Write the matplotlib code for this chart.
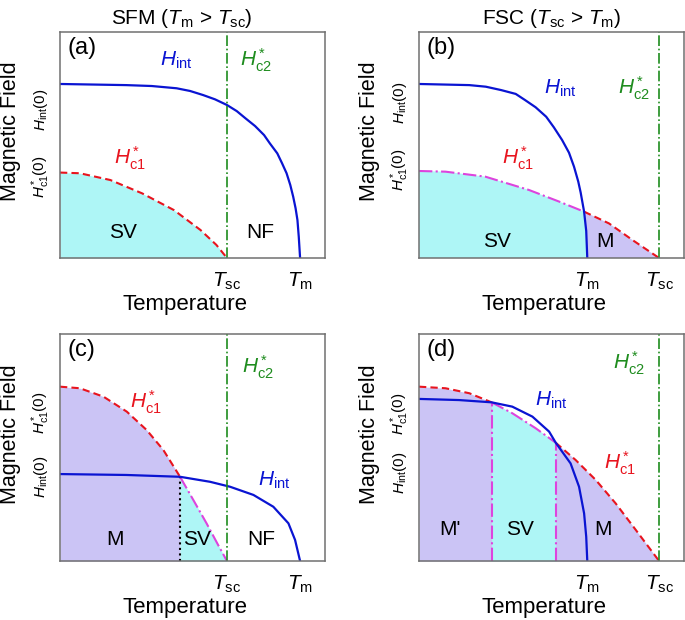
import numpy as np
import matplotlib
matplotlib.use("Agg")
import matplotlib.pyplot as plt

plt.rcParams['font.family'] = ['Liberation Sans', 'DejaVu Sans']
plt.rcParams['mathtext.fontset'] = 'custom'
plt.rcParams['mathtext.rm'] = 'Liberation Sans'
plt.rcParams['mathtext.it'] = 'Liberation Sans:italic'

# (a) SFM
a_hint_x = [0, 0.25, 0.346, 0.44, 0.491, 0.54, 0.585, 0.63, 0.667, 0.70, 0.736, 0.77,
            0.792, 0.82, 0.838, 0.855, 0.869, 0.88, 0.889, 0.896, 0.901, 0.906]
a_hint_y = [0.77, 0.765, 0.761, 0.751, 0.739, 0.721, 0.702, 0.677, 0.650, 0.618, 0.584, 0.544,
            0.507, 0.463, 0.419, 0.375, 0.323, 0.271, 0.220, 0.168, 0.094, 0]
a_hc1_x = [0, 0.075, 0.19, 0.31, 0.43, 0.53, 0.59, 0.63]
a_hc1_y = [0.378, 0.375, 0.345, 0.286, 0.212, 0.124, 0.058, 0]
a_tsc, a_tm = 0.63, 0.906

# (b) FSC
b_hint_x = [0, 0.19, 0.252, 0.31, 0.365, 0.40, 0.44, 0.48, 0.509, 0.54, 0.566, 0.585,
            0.601, 0.61, 0.623, 0.631, 0.635]
b_hint_y = [0.77, 0.765, 0.758, 0.743, 0.726, 0.699, 0.667, 0.625, 0.578, 0.522, 0.466, 0.404,
            0.338, 0.29, 0.205, 0.12, 0]
b_hc1_x = [0, 0.10, 0.25, 0.415, 0.53, 0.623, 0.717, 0.805, 0.906]
b_hc1_y = [0.385, 0.382, 0.36, 0.301, 0.249, 0.205, 0.153, 0.08, 0]
b_tm, b_tsc = 0.635, 0.906
b_cross = 0.623

# (c) SFM
c_hc1_x = [0, 0.075, 0.164, 0.252, 0.327, 0.39, 0.453, 0.503, 0.553, 0.597, 0.63]
c_hc1_y = [0.768, 0.761, 0.724, 0.658, 0.577, 0.489, 0.371, 0.269, 0.166, 0.07, 0]
c_hint_x = [0, 0.25, 0.453, 0.566, 0.642, 0.73, 0.805, 0.862, 0.887, 0.906]
c_hint_y = [0.383, 0.379, 0.371, 0.349, 0.327, 0.291, 0.239, 0.166, 0.093, 0]
c_tsc, c_tm = 0.63, 0.906
c_cross = 0.453

# (d) FSC
d_hc1_x = [0, 0.10, 0.19, 0.274, 0.352, 0.44, 0.516, 0.591, 0.667, 0.742, 0.818, 0.906]
d_hc1_y = [0.768, 0.761, 0.739, 0.699, 0.651, 0.585, 0.521, 0.445, 0.357, 0.254, 0.137, 0]
d_hint_x = [0, 0.151, 0.274, 0.352, 0.428, 0.491, 0.516, 0.572, 0.604, 0.623, 0.631, 0.635]
d_hint_y = [0.714, 0.709, 0.699, 0.68, 0.636, 0.57, 0.521, 0.43, 0.327, 0.21, 0.107, 0]
d_tm, d_tsc = 0.635, 0.906
d_cross = [0.274, 0.516]

cyan = '#aef6f6'
purple = '#cbc4f5'
blue = '#0a14d2'
red = '#e8141e'
green = '#1e8c1e'
magenta = '#dd44dd'

HINT = r'$H_{\rm int}$'
HC1 = r'$H^*_{\rm c1}$'
HC2 = r'$H^*_{\rm c2}$'
TSC = r'$T_{\rm sc}$'
TM = r'$T_{\rm m}$'

fig = plt.figure(figsize=(6.85, 6.2), dpi=100)
w, h = 265 / 685, 226 / 620
ax_a = fig.add_axes([60 / 685, 362 / 620, w, h])
ax_b = fig.add_axes([419 / 685, 362 / 620, w, h])
ax_c = fig.add_axes([60 / 685, 59 / 620, w, 227 / 620])
ax_d = fig.add_axes([419 / 685, 59 / 620, w, 227 / 620])


def estilo(ax, letra, ticks, nombres, ylabs):
    ax.set_xlim(0, 1)
    ax.set_ylim(0, 1)
    ax.set_yticks([])
    ax.set_xticks(ticks)
    ax.set_xticklabels(nombres, fontsize=15)
    ax.tick_params(axis='x', length=0, pad=9)
    for s in ax.spines.values():
        s.set_color('#707070')
        s.set_linewidth(1.1)
    ax.text(0.03, 0.93, letra, transform=ax.transAxes, fontsize=17, va='center')
    ax.text(-0.187, 0.56, 'Magnetic Field', transform=ax.transAxes, rotation=90,
            fontsize=15.5, ha='center', va='center')
    ax.text(0.47, -0.205, 'Temperature', transform=ax.transAxes, fontsize=16,
            ha='center', va='center')
    for texto, yy in ylabs:
        ax.text(-0.072, yy, texto, transform=ax.transAxes, rotation=90,
                fontsize=11, ha='center', va='center')


def etiqueta(ax, x, y, texto, color='black', size=15):
    ax.text(x, y, texto, color=color, fontsize=size, va='center')


def region(ax, x, y, texto):
    ax.text(x, y, texto, fontsize=15, ha='center', va='center')


# ---- (a)
ax = ax_a
x1, y1 = np.array(a_hc1_x), np.array(a_hc1_y)
ax.fill_between(x1, 0, y1, color=cyan, lw=0)
ax.plot(x1, y1, color=red, lw=1.5, ls=(0, (3.5, 2)))
ax.plot(a_hint_x, a_hint_y, color=blue, lw=1.6)
ax.axvline(a_tsc, color=green, lw=1.2, ls='-.')
estilo(ax, '(a)', [a_tsc, a_tm], [TSC, TM],
       [(r'$H_{\rm int}(0)$', 0.655), (r'$H^*_{\rm c1}(0)$', 0.36)])
ax.set_title(r'SFM ($T_{\rm m}$ > $T_{\rm sc}$)', fontsize=15, pad=6, x=0.46)
etiqueta(ax, 0.377, 0.876, HINT, blue)
etiqueta(ax, 0.68, 0.876, HC2, green)
etiqueta(ax, 0.205, 0.44, HC1, red)
region(ax, 0.238, 0.115, 'SV')
region(ax, 0.755, 0.115, 'NF')

# ---- (b)
ax = ax_b
x1, y1 = np.array(b_hc1_x), np.array(b_hc1_y)
xh, yh = np.array(b_hint_x), np.array(b_hint_y)
izq = x1 <= b_cross
der = x1 >= b_cross
abajo = xh >= b_cross
poly_x = np.concatenate([x1[izq], xh[abajo], [0]])
poly_y = np.concatenate([y1[izq], yh[abajo], [0]])
ax.fill(poly_x, poly_y, color=cyan, lw=0)
poly_x = np.concatenate([xh[abajo], x1[der][::-1]])
poly_y = np.concatenate([yh[abajo], y1[der][::-1]])
ax.fill(poly_x, poly_y, color=purple, lw=0)
ax.plot(x1[izq], y1[izq], color=magenta, lw=1.5, ls='-.')
ax.plot(x1[der], y1[der], color=red, lw=1.5, ls=(0, (3.5, 2)))
ax.plot(xh, yh, color=blue, lw=1.6)
ax.axvline(b_tsc, color=green, lw=1.2, ls='-.')
estilo(ax, '(b)', [b_tm, b_tsc], [TM, TSC],
       [(r'$H_{\rm int}(0)$', 0.686), (r'$H^*_{\rm c1}(0)$', 0.39)])
ax.set_title(r'FSC ($T_{\rm sc}$ > $T_{\rm m}$)', fontsize=15, pad=6, x=0.5)
etiqueta(ax, 0.47, 0.75, HINT, blue)
etiqueta(ax, 0.75, 0.75, HC2, green)
etiqueta(ax, 0.313, 0.44, HC1, red)
region(ax, 0.293, 0.075, 'SV')
region(ax, 0.70, 0.075, 'M')

# ---- (c)
ax = ax_c
x1, y1 = np.array(c_hc1_x), np.array(c_hc1_y)
izq = x1 <= c_cross
der = x1 >= c_cross
ax.fill_between(x1[izq], 0, y1[izq], color=purple, lw=0)
ax.fill_between(x1[der], 0, y1[der], color=cyan, lw=0)
ax.plot(x1[izq], y1[izq], color=red, lw=1.5, ls=(0, (3.5, 2)))
ax.plot(x1[der], y1[der], color=magenta, lw=1.5, ls='-.')
ax.plot([c_cross, c_cross], [0, y1[izq][-1]], color='black', lw=1.5, ls=':')
ax.plot(c_hint_x, c_hint_y, color=blue, lw=1.6)
ax.axvline(c_tsc, color=green, lw=1.2, ls='-.')
estilo(ax, '(c)', [c_tsc, c_tm], [TSC, TM],
       [(r'$H^*_{\rm c1}(0)$', 0.652), (r'$H_{\rm int}(0)$', 0.37)])
etiqueta(ax, 0.265, 0.70, HC1, red)
etiqueta(ax, 0.686, 0.855, HC2, green)
etiqueta(ax, 0.748, 0.357, HINT, blue)
region(ax, 0.208, 0.093, 'M')
region(ax, 0.516, 0.093, 'SV')
region(ax, 0.761, 0.093, 'NF')

# ---- (d)
ax = ax_d
x1, y1 = np.array(d_hc1_x), np.array(d_hc1_y)
medio = (x1 >= d_cross[0]) & (x1 <= d_cross[1])
izq = x1 <= d_cross[0]
der = x1 >= d_cross[1]
ax.fill_between(x1, 0, y1, color=purple, lw=0)
ax.fill_between(x1[medio], 0, y1[medio], color=cyan, lw=0)
ax.plot(x1[izq], y1[izq], color=red, lw=1.5, ls=(0, (3.5, 2)))
ax.plot(x1[der], y1[der], color=red, lw=1.5, ls=(0, (3.5, 2)))
ax.plot(x1[medio], y1[medio], color=magenta, lw=1.5, ls='-.')
for xc in d_cross:
    ax.plot([xc, xc], [0, y1[x1 == xc][0]], color=magenta, lw=1.5, ls='-.')
ax.plot(d_hint_x, d_hint_y, color=blue, lw=1.6)
ax.axvline(d_tsc, color=green, lw=1.2, ls='-.')
estilo(ax, '(d)', [d_tm, d_tsc], [TM, TSC],
       [(r'$H^*_{\rm c1}(0)$', 0.65), (r'$H_{\rm int}(0)$', 0.39)])
etiqueta(ax, 0.732, 0.872, HC2, green)
etiqueta(ax, 0.438, 0.709, HINT, blue)
etiqueta(ax, 0.70, 0.43, HC1, red)
region(ax, 0.117, 0.137, "M'")
region(ax, 0.38, 0.137, 'SV')
region(ax, 0.694, 0.137, 'M')

fig.savefig('out.png', dpi=100)
